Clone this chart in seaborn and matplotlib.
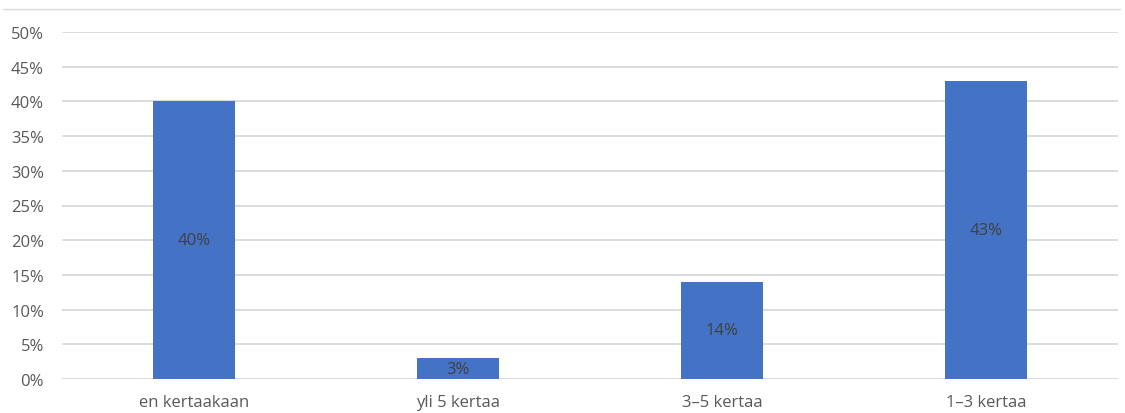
import matplotlib
matplotlib.use("Agg")
import matplotlib.pyplot as plt
import seaborn as sns
import pandas as pd
from matplotlib.lines import Line2D

categories = ["en kertaakaan", "yli 5 kertaa", "3–5 kertaa", "1–3 kertaa"]
values = [40, 3, 14, 43]
value_labels = ["40%", "3%", "14%", "43%"]
yticks = [0, 5, 10, 15, 20, 25, 30, 35, 40, 45, 50]
ytick_labels = ["0%", "5%", "10%", "15%", "20%", "25%", "30%", "35%", "40%", "45%", "50%"]

sns.set_theme(style="white")
plt.rcParams['font.family'] = ['Open Sans', 'DejaVu Sans']

df = pd.DataFrame({"cat": categories, "val": values})

fig = plt.figure(figsize=(11.25, 4.14), dpi=100)
ax = fig.add_axes([62/1125, 1-380/414, (1118-62)/1125, (380-33)/414])

sns.barplot(data=df, x="cat", y="val", color="#4472C4", saturation=1, width=0.31,
            linewidth=0, ax=ax, zorder=3)

ax.set_xlim(-0.5, 3.5)
ax.set_ylim(0, 50)
ax.set_yticks(yticks)
ax.set_yticklabels(ytick_labels)
ax.yaxis.grid(True, color="#d9d9d9", linewidth=1.3, zorder=0)
ax.set_axisbelow(True)
for s in ax.spines.values():
    s.set_visible(False)
ax.set_xlabel("")
ax.set_ylabel("")
ax.tick_params(axis="both", length=0, labelsize=12, labelcolor="#595959")
ax.tick_params(axis="y", pad=13)
ax.tick_params(axis="x", pad=11)

for i, (v, lab) in enumerate(zip(values, value_labels)):
    ax.text(i, v/2, lab, ha="center", va="center", fontsize=12, color="#404040", zorder=4)

fig.add_artist(Line2D([3/1125, 1120/1125], [1-10/414, 1-10/414], color="#d9d9d9", linewidth=1, transform=fig.transFigure))

fig.savefig("out.png", dpi=100)
